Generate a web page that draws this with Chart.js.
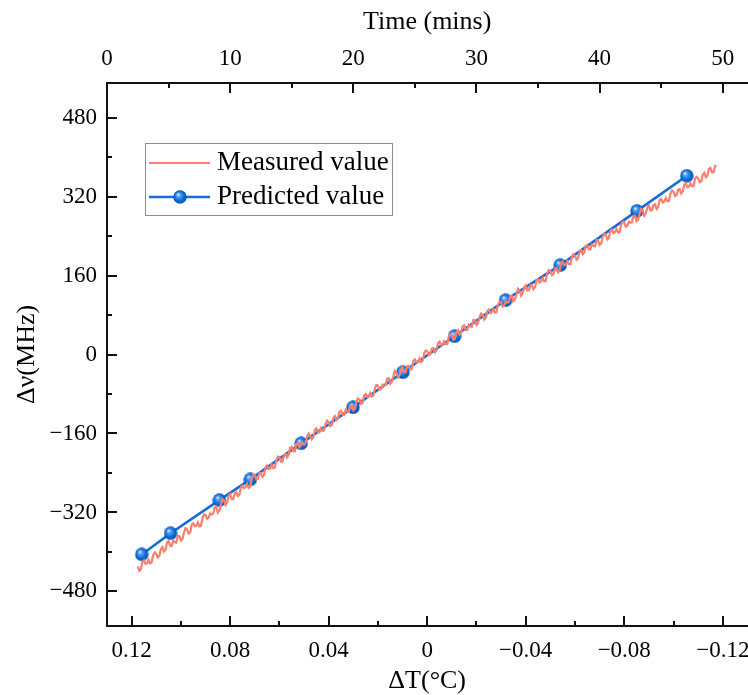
<!DOCTYPE html>
<html><head><meta charset="utf-8">
<script src="https://cdn.jsdelivr.net/npm/chart.js@4"></script>
<style>
html,body{margin:0;padding:0;background:#fff;overflow:hidden;width:748px;height:695px}
#wrap{position:absolute;left:0;top:0;width:757px;height:695px}
canvas{display:block}
</style>
</head><body><div id="wrap"><canvas id="c" width="757" height="695" style="width:757px;height:695px"></canvas></div>
<script>
// ---- data ----
const timeMins = [2.5,2.625,2.75,2.875,
3,3.125,3.25,3.375,3.5,3.625,3.75,3.875,
4,4.125,4.25,4.375,4.5,4.625,4.75,4.875,
5,5.125,5.25,5.375,5.5,5.625,5.75,5.875,
6,6.125,6.25,6.375,6.5,6.625,6.75,6.875,
7,7.125,7.25,7.375,7.5,7.625,7.75,7.875,
8,8.125,8.25,8.375,8.5,8.625,8.75,8.875,
9,9.125,9.25,9.375,9.5,9.625,9.75,9.875,
10,10.125,10.25,10.375,10.5,10.625,10.75,10.875,
11,11.125,11.25,11.375,11.5,11.625,11.75,11.875,
12,12.125,12.25,12.375,12.5,12.625,12.75,12.875,
13,13.125,13.25,13.375,13.5,13.625,13.75,13.875,
14,14.125,14.25,14.375,14.5,14.625,14.75,14.875,
15,15.125,15.25,15.375,15.5,15.625,15.75,15.875,
16,16.125,16.25,16.375,16.5,16.625,16.75,16.875,
17,17.125,17.25,17.375,17.5,17.625,17.75,17.875,
18,18.125,18.25,18.375,18.5,18.625,18.75,18.875,
19,19.125,19.25,19.375,19.5,19.625,19.75,19.875,
20,20.125,20.25,20.375,20.5,20.625,20.75,20.875,
21,21.125,21.25,21.375,21.5,21.625,21.75,21.875,
22,22.125,22.25,22.375,22.5,22.625,22.75,22.875,
23,23.125,23.25,23.375,23.5,23.625,23.75,23.875,
24,24.125,24.25,24.375,24.5,24.625,24.75,24.875,
25,25.125,25.25,25.375,25.5,25.625,25.75,25.875,
26,26.125,26.25,26.375,26.5,26.625,26.75,26.875,
27,27.125,27.25,27.375,27.5,27.625,27.75,27.875,
28,28.125,28.25,28.375,28.5,28.625,28.75,28.875,
29,29.125,29.25,29.375,29.5,29.625,29.75,29.875,
30,30.125,30.25,30.375,30.5,30.625,30.75,30.875,
31,31.125,31.25,31.375,31.5,31.625,31.75,31.875,
32,32.125,32.25,32.375,32.5,32.625,32.75,32.875,
33,33.125,33.25,33.375,33.5,33.625,33.75,33.875,
34,34.125,34.25,34.375,34.5,34.625,34.75,34.875,
35,35.125,35.25,35.375,35.5,35.625,35.75,35.875,
36,36.125,36.25,36.375,36.5,36.625,36.75,36.875,
37,37.125,37.25,37.375,37.5,37.625,37.75,37.875,
38,38.125,38.25,38.375,38.5,38.625,38.75,38.875,
39,39.125,39.25,39.375,39.5,39.625,39.75,39.875,
40,40.125,40.25,40.375,40.5,40.625,40.75,40.875,
41,41.125,41.25,41.375,41.5,41.625,41.75,41.875,
42,42.125,42.25,42.375,42.5,42.625,42.75,42.875,
43,43.125,43.25,43.375,43.5,43.625,43.75,43.875,
44,44.125,44.25,44.375,44.5,44.625,44.75,44.875,
45,45.125,45.25,45.375,45.5,45.625,45.75,45.875,
46,46.125,46.25,46.375,46.5,46.625,46.75,46.875,
47,47.125,47.25,47.375,47.5,47.625,47.75,47.875,
48,48.125,48.25,48.375,48.5,48.625,48.75,48.875,
49,49.125,49.25,49.375,49.5];
const measuredMHz = [-429,-438,-435,-420,
-417,-424,-423,-416,-423,-421,-406,-401,
-404,-411,-408,-394,-390,-399,-396,-381,
-378,-387,-388,-377,-380,-381,-368,-368,
-377,-374,-361,-352,-354,-363,-361,-345,
-342,-348,-347,-340,-348,-347,-332,-324,
-325,-333,-331,-322,-324,-322,-309,-308,
-320,-316,-304,-293,-296,-305,-300,-287,
-283,-293,-293,-281,-279,-287,-284,-269,
-266,-271,-269,-262,-270,-268,-252,-244,
-245,-253,-252,-241,-240,-248,-244,-228,
-225,-232,-231,-223,-230,-229,-215,-207,
-208,-217,-217,-204,-201,-208,-203,-189,
-187,-195,-196,-181,-180,-188,-183,-179,
-183,-179,-166,-160,-165,-172,-168,-153,
-150,-158,-158,-149,-155,-154,-140,-134,
-137,-145,-143,-129,-125,-133,-130,-116,
-114,-122,-123,-112,-115,-116,-103,-104,
-113,-110,-97,-89,-91,-100,-98,-83,
-80,-86,-85,-78,-85,-84,-69,-62,
-63,-71,-70,-61,-63,-62,-49,-48,
-59,-55,-44,-33,-37,-46,-42,-30,
-26,-36,-36,-24,-23,-31,-28,-13,
-10,-16,-15,-8,-15,-13,2,8,
7,-1,1,12,13,4,8,23,
26,19,20,27,21,21,36,41,
38,30,32,45,49,40,43,57,
59,50,50,60,57,56,70,69,
60,63,76,83,81,71,74,88,
91,84,86,92,85,86,101,107,
106,97,99,107,105,106,119,119,
108,111,123,133,129,119,124,136,
140,130,130,140,141,132,136,150,
153,146,148,155,148,149,165,171,
170,161,163,174,175,166,170,185,
188,181,182,189,183,183,198,203,
200,192,195,208,212,203,206,220,
222,213,213,223,220,219,232,231,
222,225,238,245,243,233,236,250,
253,246,248,254,247,248,263,269,
268,259,261,269,267,268,281,281,
270,273,285,295,291,281,286,298,
302,292,292,303,304,295,299,313,
315,308,310,317,310,311,326,332,
330,321,323,334,335,326,330,344,
347,339,340,347,341,341,356,360,
357,349,351,364,368,359,362,376,
378,369,369,382,381];
const predictedDT = [0.1159,0.1042,0.0844,0.0718,0.0512,0.0301,0.0099,-0.0111,-0.0318,-0.0540,-0.0852,-0.1054];
const predictedMHz = [-405,-362,-295,-253,-180,-107,-36,37,110,181,291,362];

const dtTicks = [0.12,0.08,0.04,0,-0.04,-0.08,-0.12];
const dtMinor = [0.10,0.06,0.02,-0.02,-0.06,-0.10];
const timeTicks = [0,10,20,30,40,50];
const timeMinor = [5,15,25,35,45];
const mhzTicks = [-480,-320,-160,0,160,320,480];
const mhzMinor = [-400,-240,-80,80,240,400];

const seriesNames = ['Measured value','Predicted value'];
const axisTitles = {top:'Time (mins)', bottom:'\u0394T(\u00B0C)', left:'\u0394\u03BD(MHz)'};

// ---- styles ----
const SERIF = "'Liberation Serif','Times New Roman',serif";
const RED = '#fa7f6f';
const BLUE = '#146cd9';

function makeSphere(d){
  const c = document.createElement('canvas');
  c.width = d; c.height = d;
  const g = c.getContext('2d');
  const r = d/2;
  const grad = g.createRadialGradient(r*0.72, r*0.62, 0.3, r, r, r);
  grad.addColorStop(0, '#eaf4ff');
  grad.addColorStop(0.22, '#5aa6f2');
  grad.addColorStop(0.65, '#0b6bd9');
  grad.addColorStop(1, '#0550ad');
  g.fillStyle = grad;
  g.beginPath(); g.arc(r, r, r-0.3, 0, Math.PI*2); g.fill();
  return c;
}
const sphere = makeSphere(14);

function minus(s){ return s.replace('-', '\u2212'); }

const n = Math.min(timeMins.length, measuredMHz.length);
const measuredData = timeMins.slice(0, n).map((t,i)=>({x:t, y:measuredMHz[i]}));
const predictedData = predictedDT.map((v,i)=>({x:v, y:predictedMHz[i]}));

const tickPlugin = {
  id:'inTicks',
  afterDraw(chart){
    const ctx = chart.ctx, a = chart.chartArea;
    const sx = chart.scales.x, st = chart.scales.x2, sy = chart.scales.y;
    ctx.save();
    ctx.strokeStyle = '#111';
    ctx.lineWidth = 2;
    const draw = (scale, vals, len, pos) => {
      vals.forEach(val => {
        const p = Math.round(scale.getPixelForValue(val));
        ctx.beginPath();
        if (pos === 'bottom') { ctx.moveTo(p, a.bottom); ctx.lineTo(p, a.bottom - len); }
        else if (pos === 'top') { ctx.moveTo(p, a.top); ctx.lineTo(p, a.top + len); }
        else { ctx.moveTo(a.left, p); ctx.lineTo(a.left + len, p); }
        ctx.stroke();
      });
    };
    draw(sx, dtTicks, 10, 'bottom');
    draw(sx, dtMinor, 5, 'bottom');
    draw(st, timeTicks, 10, 'top');
    draw(st, timeMinor, 5, 'top');
    draw(sy, mhzTicks, 10, 'left');
    draw(sy, mhzMinor, 5, 'left');
    ctx.restore();

    // legend
    ctx.save();
    const bx = 145.5, by = 143.5, bw = 247, bh = 72;
    ctx.fillStyle = '#fff';
    ctx.fillRect(bx, by, bw, bh);
    ctx.strokeStyle = '#8c8c8c';
    ctx.lineWidth = 1;
    ctx.strokeRect(bx, by, bw, bh);
    const rows = [163, 197];
    ctx.lineWidth = 1.8;
    ctx.strokeStyle = RED;
    ctx.beginPath(); ctx.moveTo(149, rows[0]); ctx.lineTo(210, rows[0]); ctx.stroke();
    ctx.lineWidth = 2.5;
    ctx.strokeStyle = BLUE;
    ctx.beginPath(); ctx.moveTo(149, rows[1]); ctx.lineTo(210, rows[1]); ctx.stroke();
    ctx.drawImage(sphere, 180 - sphere.width/2, rows[1] - sphere.height/2);
    ctx.fillStyle = '#000';
    ctx.font = '27px ' + SERIF;
    ctx.textBaseline = 'middle';
    ctx.textAlign = 'left';
    ctx.fillText(seriesNames[0], 217, rows[0]);
    ctx.fillText(seriesNames[1], 217, rows[1]);
    ctx.restore();
  }
};

const tickFont = {family: SERIF, size: 23};
const titleFont = {family: SERIF, size: 26};

new Chart(document.getElementById('c'), {
  type: 'line',
  data: {
    datasets: [
      {label: seriesNames[0], data: measuredData, xAxisID: 'x2', yAxisID: 'y',
       borderColor: RED, borderWidth: 2.2, pointRadius: 0, tension: 0, fill: false},
      {label: seriesNames[1], data: predictedData, xAxisID: 'x', yAxisID: 'y',
       borderColor: BLUE, backgroundColor: BLUE, borderWidth: 2.6, pointStyle: sphere,
       pointRadius: 7, tension: 0, fill: false}
    ]
  },
  options: {
    responsive: false,
    animation: false,
    devicePixelRatio: 1,
    layout: {padding: {left: 0, right: 4, top: 0, bottom: 0}},
    plugins: {legend: {display: false}, tooltip: {enabled: false}},
    scales: {
      x: {
        type: 'linear', position: 'bottom', min: -0.13, max: 0.13, reverse: true,
        grid: {display: false, drawTicks: false},
        border: {display: true, color: '#111', width: 2},
        ticks: {font: tickFont, color: '#000', padding: 11, maxRotation: 0, autoSkip: false,
          callback: v => v === 0 ? '0' : minus(v.toFixed(2))},
        title: {display: true, text: axisTitles.bottom, font: {family: SERIF, size: 26, lineHeight: 1}, color: '#000', padding: {top: 0, bottom: 1}},
        afterBuildTicks: s => { s.ticks = dtTicks.slice().sort((a,b)=>a-b).map(v=>({value:v})); },
        afterFit: s => { s.height = 69; s.paddingLeft = 0; s.paddingRight = 0; }
      },
      x2: {
        type: 'linear', position: 'top', min: 0, max: 52,
        grid: {display: false, drawTicks: false},
        border: {display: true, color: '#111', width: 2},
        ticks: {font: tickFont, color: '#000', padding: 10, maxRotation: 0, autoSkip: false,
          callback: v => String(v)},
        title: {display: true, text: axisTitles.top, font: titleFont, color: '#000', padding: {top: 7, bottom: 0}},
        afterBuildTicks: s => { s.ticks = timeTicks.map(v=>({value:v})); },
        afterFit: s => { s.height = 83; s.paddingLeft = 0; s.paddingRight = 0; }
      },
      y: {
        type: 'linear', position: 'left', min: -550, max: 550,
        grid: {display: false, drawTicks: false},
        border: {display: true, color: '#111', width: 2},
        ticks: {font: tickFont, color: '#000', padding: 10, autoSkip: false,
          callback: v => minus(String(v))},
        title: {display: true, text: axisTitles.left, font: titleFont, color: '#000', padding: {top: 12, bottom: 0}},
        afterBuildTicks: s => { s.ticks = mhzTicks.map(v=>({value:v})); },
        afterFit: s => { s.width = 107; s.paddingTop = 0; s.paddingBottom = 0; }
      }
    }
  },
  plugins: [tickPlugin]
});
</script>
</body></html>
